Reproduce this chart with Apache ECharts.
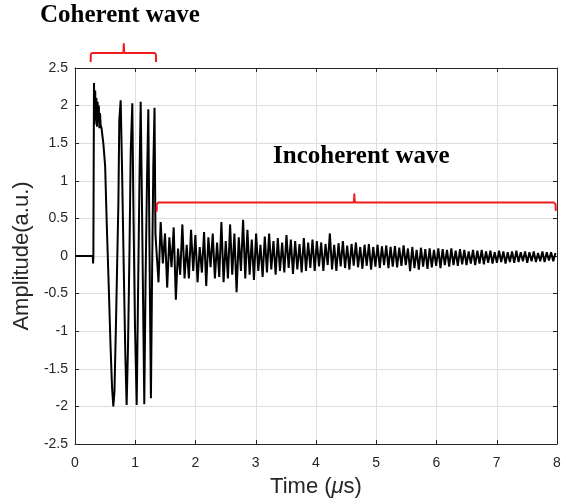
<!DOCTYPE html>
<html>
<head>
<meta charset="utf-8">
<script src="https://cdn.jsdelivr.net/npm/echarts@6/dist/echarts.min.js"></script>
<style>
html,body{margin:0;padding:0;background:#fff;}
#chart{width:566px;height:504px;}
</style>
</head>
<body>
<div id="chart"></div>
<script>
// Axis ticks
const xTicks = [0, 1, 2, 3, 4, 5, 6, 7, 8];
const yTicks = [-2.5, -2, -1.5, -1, -0.5, 0, 0.5, 1, 1.5, 2, 2.5];

// Coherent part (time in µs, amplitude a.u.)
const coherentTime = [0, 0.295, 0.300, 0.305, 0.315, 0.325, 0.335, 0.345, 0.355, 0.365, 0.375, 0.385, 0.395, 0.405, 0.415, 0.425,
  0.44, 0.47, 0.50, 0.53, 0.56, 0.59, 0.615, 0.636,
  0.655, 0.68, 0.70, 0.72, 0.735, 0.745, 0.758,
  0.78, 0.81, 0.835, 0.857,
  0.88, 0.905, 0.925, 0.94, 0.951,
  0.97, 0.995, 1.024,
  1.045, 1.07, 1.09,
  1.11, 1.13, 1.15,
  1.17, 1.195, 1.217,
  1.235, 1.26,
  1.28, 1.30, 1.32, 1.335];
const coherentAmp = [0, 0, -0.1, 0, 2.3, 1.75, 2.2, 1.8, 2.1, 1.72, 2.05, 1.78, 2.0, 1.7, 1.9, 1.75,
  1.7, 1.5, 1.2, 0.35, -0.4, -1.2, -1.75, -2.0,
  -1.8, -0.9, -0.1, 0.7, 1.8, 1.78, 2.07,
  1.2, -0.2, -1.3, -1.98,
  -1.2, 0.1, 1.4, 1.75, 2.03,
  0.6, -0.9, -1.98,
  -0.6, 1.0, 2.05,
  0.8, -0.6, -1.97,
  -0.4, 1.0, 1.95,
  0.2, -1.89,
  -0.2, 1.2, 1.97, 0.3];

// Incoherent part: sampled every incoherentStep µs from incoherentStart
const incoherentStart = 1.35;
const incoherentStep = 0.036;
const incoherentAmp = [
  0.1, -0.35, 0.45, -0.1, 0.3, -0.42, 0.25, -0.15, 0.38, -0.58, 0.1, -0.25, 0.42, -0.3, 0.15, -0.3, 0.35, -0.2, 0.28, -0.35,
  0.12, -0.22, 0.32, -0.4, 0.25, -0.15, 0.3, -0.3, 0.18, -0.28, 0.45, -0.35, 0.2, -0.3,
  0.42, -0.25, 0.3, -0.48, 0.25, -0.2, 0.48, -0.3, 0.35, -0.25, 0.22, -0.32, 0.3, -0.2, 0.15, -0.28, 0.26, -0.22, 0.3, -0.18,
  0.2, -0.25, 0.24, -0.2, 0.18, -0.22, 0.28, -0.16, 0.22, -0.24, 0.2, -0.18, 0.16, -0.22, 0.24, -0.2, 0.18, -0.16, 0.22, -0.2,
  0.2, -0.14, 0.18, -0.2, 0.16, -0.12, 0.3, -0.18, 0.15, -0.2, 0.17, -0.14, 0.2, -0.16, 0.14, -0.18, 0.16, -0.13, 0.18, -0.15,
  0.12, -0.17, 0.15, -0.13, 0.16, -0.18, 0.12, -0.14, 0.15, -0.16, 0.13, -0.12, 0.14, -0.16, 0.12, -0.14, 0.13, -0.15, 0.11, -0.13, 0.14, -0.12,
  0.1, -0.2, 0.12, -0.16, 0.08, -0.18, 0.11, -0.14, 0.09, -0.17, 0.1, -0.15, 0.08, -0.13, 0.1, -0.16, 0.09, -0.12, 0.08, -0.14,
  0.1, -0.12, 0.07, -0.13, 0.09, -0.11, 0.08, -0.12, 0.06, -0.1, 0.08, -0.12, 0.07, -0.1, 0.08, -0.11, 0.06, -0.09, 0.07, -0.1,
  0.05, -0.09, 0.07, -0.08, 0.06, -0.1, 0.05, -0.08, 0.06, -0.09, 0.07, -0.08, 0.05, -0.07, 0.06, -0.09, 0.05, -0.07, 0.06, -0.08,
  0.04, -0.07, 0.06, -0.08, 0.05, -0.06, 0.05, -0.07, 0.04
];

// Annotation braces (data coordinates)
const coherentBraceT = [0.26, 0.262, 0.28, 0.795, 0.805, 0.81, 0.815, 0.825, 1.325, 1.343, 1.345];
const coherentBraceV = [2.58, 2.68, 2.70, 2.70, 2.72, 2.82, 2.72, 2.70, 2.70, 2.68, 2.58];
const incoherentBraceT = [1.356, 1.358, 1.38, 4.62, 4.63, 4.636, 4.642, 4.652, 7.95, 7.975, 7.98];
const incoherentBraceV = [0.59, 0.69, 0.71, 0.71, 0.73, 0.82, 0.73, 0.71, 0.71, 0.69, 0.60];

const labels = { coherent: 'Coherent wave', incoherent: 'Incoherent wave' };

// Build series data
const waveData = coherentTime.map((t, i) => [t, coherentAmp[i]]);
incoherentAmp.forEach((v, i) => waveData.push([incoherentStart + i * incoherentStep, v]));

const axisColor = '#262626';
const gridColor = '#dedede';
const braceColor = '#ee1c1c';
const xMin = xTicks[0], xMax = xTicks[xTicks.length - 1];
const yMin = yTicks[0], yMax = yTicks[yTicks.length - 1];

const chart = echarts.init(document.getElementById('chart'), null, { renderer: 'canvas' });
chart.setOption({
  animation: false,
  backgroundColor: '#fff',
  grid: { left: 75, right: 9, top: 68, bottom: 60, containLabel: false },
  xAxis: [{
    type: 'value', min: xMin, max: xMax, interval: 1,
    name: 'Time ({i|μ}s)', nameLocation: 'middle', nameGap: 32,
    nameTextStyle: { color: axisColor, fontSize: 22, fontFamily: 'Liberation Sans',
      rich: { i: { fontStyle: 'italic', fontSize: 22, fontFamily: 'Liberation Sans', color: axisColor } } },
    axisLine: { show: true, onZero: false, lineStyle: { color: axisColor, width: 1 } },
    axisTick: { show: true, inside: true, length: 4, lineStyle: { color: axisColor } },
    axisLabel: { color: axisColor, fontSize: 14, fontFamily: 'Liberation Sans', margin: 12 },
    splitLine: { show: true, lineStyle: { color: gridColor, width: 1 } }
  }, {
    type: 'value', position: 'top', min: xMin, max: xMax, interval: 1,
    axisLine: { show: true, onZero: false, lineStyle: { color: axisColor, width: 1 } },
    axisTick: { show: true, inside: true, length: 4, lineStyle: { color: axisColor } },
    axisLabel: { show: false }, splitLine: { show: false }
  }],
  yAxis: [{
    type: 'value', min: yMin, max: yMax, interval: 0.5,
    name: 'Amplitude(a.u.)', nameLocation: 'middle', nameGap: 30, nameRotate: 90,
    nameTextStyle: { color: axisColor, fontSize: 22, fontFamily: 'Liberation Sans' },
    axisLine: { show: true, onZero: false, lineStyle: { color: axisColor, width: 1 } },
    axisTick: { show: true, inside: true, length: 4, lineStyle: { color: axisColor } },
    axisLabel: { color: axisColor, fontSize: 14, fontFamily: 'Liberation Sans', margin: 7 },
    splitLine: { show: true, lineStyle: { color: gridColor, width: 1 } }
  }, {
    type: 'value', position: 'right', min: yMin, max: yMax, interval: 0.5,
    axisLine: { show: true, onZero: false, lineStyle: { color: axisColor, width: 1 } },
    axisTick: { show: true, inside: true, length: 4, lineStyle: { color: axisColor } },
    axisLabel: { show: false }, splitLine: { show: false }
  }],
  series: [{
    type: 'line', data: waveData, showSymbol: false, symbol: 'none', smooth: false,
    lineStyle: { color: '#000', width: 2 }, z: 3
  }]
});

function bracePoints(ts, vs) {
  return ts.map((t, i) => chart.convertToPixel({ gridIndex: 0 }, [t, vs[i]]));
}

chart.setOption({
  graphic: [{
    type: 'polyline', id: 'brace1', z: 50, silent: true,
    shape: { points: bracePoints(coherentBraceT, coherentBraceV) },
    style: { stroke: braceColor, lineWidth: 2, fill: null, lineJoin: 'round' }
  }, {
    type: 'polyline', id: 'brace2', z: 50, silent: true,
    shape: { points: bracePoints(incoherentBraceT, incoherentBraceV) },
    style: { stroke: braceColor, lineWidth: 2, fill: null, lineJoin: 'round' }
  }, {
    type: 'text', id: 't1', left: 40, top: 3, z: 50,
    style: { text: labels.coherent, font: 'bold 25px "Liberation Serif"', fill: '#000' }
  }, {
    type: 'text', id: 't2', left: 273, top: 144, z: 50,
    style: { text: labels.incoherent, font: 'bold 25px "Liberation Serif"', fill: '#000' }
  }]
});
</script>
</body>
</html>
